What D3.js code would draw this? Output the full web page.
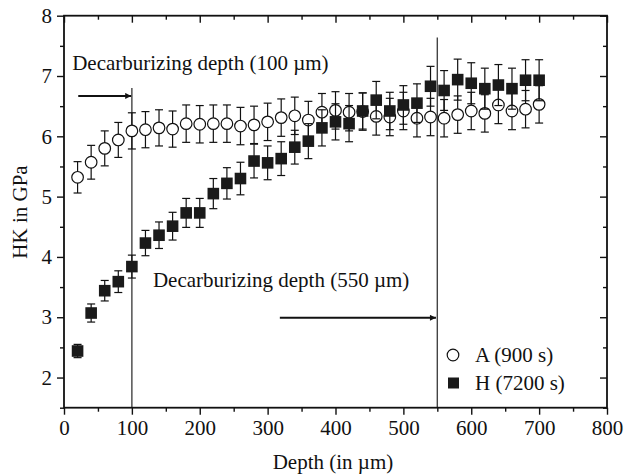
<!DOCTYPE html>
<html><head><meta charset="utf-8">
<script src="https://cdn.jsdelivr.net/npm/d3@7"></script>
<style>body{margin:0;background:#fff}svg{display:block}text{font-family:"Liberation Serif","Times New Roman",serif;fill:#111}</style>
</head><body><svg id="c" width="625" height="474"></svg>
<script>
const depthsA = [20,40,60,80,100,120,140,160,180,200,220,240,260,280,300,320,340,360,380,400,420,440,460,480,500,520,540,560,580,600,620,640,660,680,700];
const hkA = [5.32,5.57,5.80,5.94,6.09,6.11,6.14,6.12,6.21,6.20,6.21,6.21,6.17,6.19,6.24,6.31,6.34,6.27,6.40,6.43,6.40,6.41,6.33,6.32,6.42,6.30,6.32,6.30,6.36,6.42,6.38,6.52,6.42,6.45,6.53];
const errA = [0.26,0.28,0.29,0.29,0.30,0.30,0.30,0.30,0.31,0.31,0.31,0.31,0.31,0.31,0.31,0.31,0.31,0.31,0.31,0.31,0.31,0.31,0.31,0.31,0.31,0.31,0.31,0.31,0.31,0.31,0.31,0.31,0.31,0.31,0.31];
const depthsH = [20,40,60,80,100,120,140,160,180,200,220,240,260,280,300,320,340,360,380,400,420,440,460,480,500,520,540,560,580,600,620,640,660,680,700];
const hkH = [2.44,3.07,3.44,3.59,3.84,4.23,4.36,4.51,4.73,4.73,5.05,5.22,5.30,5.59,5.56,5.63,5.82,5.92,6.14,6.24,6.21,6.42,6.60,6.42,6.52,6.55,6.83,6.76,6.94,6.88,6.79,6.85,6.79,6.93,6.93];
const errH = [0.11,0.15,0.17,0.18,0.19,0.21,0.22,0.23,0.24,0.24,0.25,0.26,0.27,0.28,0.28,0.28,0.28,0.29,0.30,0.30,0.30,0.30,0.31,0.31,0.32,0.32,0.33,0.33,0.34,0.34,0.34,0.34,0.34,0.34,0.34];
const xTicks = [0,100,200,300,400,500,600,700,800];
const yTicks = [2,3,4,5,6,7,8];
const seriesNames = ["A (900 s)","H (7200 s)"];
const vLines = [{x:100, top:6.8},{x:550, top:7.64}];
const notes = [{text:"Decarburizing depth (100 \u00b5m)", x:12, y:7.1},{text:"Decarburizing depth (550 \u00b5m)", x:131, y:3.5}];
const arrows = [{x0:21, x1:99, y:6.67},{x0:318, x1:548, y:2.99}];

const svg = d3.select("#c");
const x = d3.scaleLinear().domain([0,800]).range([64,607]);
const y = d3.scaleLinear().domain([1.5,8]).range([407.7,15.7]);
const FS = 21;

svg.selectAll(".vl").data(vLines).enter().append("line")
  .attr("x1",d=>x(d.x)).attr("x2",d=>x(d.x)).attr("y1",d=>y(d.top)).attr("y2",y(1.5))
  .attr("stroke","#444").attr("stroke-width",1.4);

const minorX = d3.range(50,800,100), minorY = d3.range(1.5,8,1);
function axisGroup(axis, tr){ return svg.append("g").attr("transform",tr).call(axis); }
axisGroup(d3.axisBottom(x).tickValues(xTicks).tickSize(7).tickPadding(5).tickFormat(d3.format("d")), `translate(0,${y(1.5)})`);
axisGroup(d3.axisBottom(x).tickValues(minorX).tickSize(4).tickFormat(""), `translate(0,${y(1.5)})`);
axisGroup(d3.axisLeft(y).tickValues(yTicks).tickSize(7).tickPadding(5).tickFormat(d3.format("d")), `translate(${x(0)},0)`);
axisGroup(d3.axisLeft(y).tickValues(minorY).tickSize(4).tickFormat(""), `translate(${x(0)},0)`);
axisGroup(d3.axisBottom(x).tickValues(xTicks).tickSize(7).tickFormat(""), `translate(0,${y(8)})`);
axisGroup(d3.axisBottom(x).tickValues(minorX).tickSize(4).tickFormat(""), `translate(0,${y(8)})`);
axisGroup(d3.axisLeft(y).tickValues(yTicks).tickSize(7).tickFormat(""), `translate(${x(800)},0)`);
axisGroup(d3.axisLeft(y).tickValues(minorY).tickSize(4).tickFormat(""), `translate(${x(800)},0)`);
svg.selectAll(".tick line").attr("stroke","#111").attr("stroke-width",1.4);
svg.selectAll(".tick text").style("font-family",'"Liberation Serif",serif').style("font-size",FS+"px").attr("fill","#111");
svg.selectAll(".domain").remove();
svg.append("rect").attr("x",x(0)).attr("y",y(8)).attr("width",x(800)-x(0)).attr("height",y(1.5)-y(8))
  .attr("fill","none").attr("stroke","#111").attr("stroke-width",1.8);

svg.append("text").attr("x",333).attr("y",469).attr("text-anchor","middle").style("font-size",FS+"px").text("Depth (in \u00b5m)");
svg.append("text").attr("transform","translate(27,212) rotate(-90)").attr("text-anchor","middle").style("font-size",FS+"px").text("HK in GPa");

svg.selectAll(".note").data(notes).enter().append("text")
  .attr("x",d=>x(d.x)).attr("y",d=>y(d.y)).style("font-size",FS+"px").text(d=>d.text);
const defs = svg.append("defs");
defs.append("marker").attr("id","ah").attr("viewBox","0 0 10 10").attr("refX",10).attr("refY",5)
  .attr("markerWidth",9).attr("markerHeight",6).attr("markerUnits","userSpaceOnUse").attr("orient","auto")
  .append("path").attr("d","M0,0L10,5L0,10z").attr("fill","#111");
svg.selectAll(".arr").data(arrows).enter().append("line")
  .attr("x1",d=>x(d.x0)).attr("x2",d=>x(d.x1)).attr("y1",d=>y(d.y)).attr("y2",d=>y(d.y))
  .attr("stroke","#111").attr("stroke-width",2).attr("marker-end","url(#ah)");

function errBars(dep, val, err){
  const g = svg.append("g").attr("stroke","#111").attr("stroke-width",1.2);
  dep.forEach((d,i)=>{
    const cx = x(d), y1 = y(val[i]+err[i]), y0 = y(val[i]-err[i]);
    g.append("line").attr("x1",cx).attr("x2",cx).attr("y1",y1).attr("y2",y0);
    g.append("line").attr("x1",cx-4).attr("x2",cx+4).attr("y1",y1).attr("y2",y1);
    g.append("line").attr("x1",cx-4).attr("x2",cx+4).attr("y1",y0).attr("y2",y0);
  });
}
errBars(depthsA, hkA, errA);
svg.append("g").selectAll("circle").data(depthsA).enter().append("circle")
  .attr("cx",d=>x(d)).attr("cy",(d,i)=>y(hkA[i])).attr("r",5.8)
  .attr("fill","#fff").attr("stroke","#111").attr("stroke-width",1.2);
errBars(depthsH, hkH, errH);
svg.append("g").selectAll("rect").data(depthsH).enter().append("rect")
  .attr("x",d=>x(d)-5.8).attr("y",(d,i)=>y(hkH[i])-5.8).attr("width",11.6).attr("height",11.6)
  .attr("fill","#1a1a1a");

const lg = svg.append("g");
lg.append("circle").attr("cx",453).attr("cy",355).attr("r",5.8).attr("fill","#fff").attr("stroke","#111").attr("stroke-width",1.2);
lg.append("rect").attr("x",448).attr("y",377.5).attr("width",11).attr("height",11).attr("fill","#1a1a1a");
lg.selectAll("text").data(seriesNames).enter().append("text")
  .attr("x",475).attr("y",(d,i)=>362+i*27.5).style("font-size",FS+"px").text(d=>d);
</script></body></html>
